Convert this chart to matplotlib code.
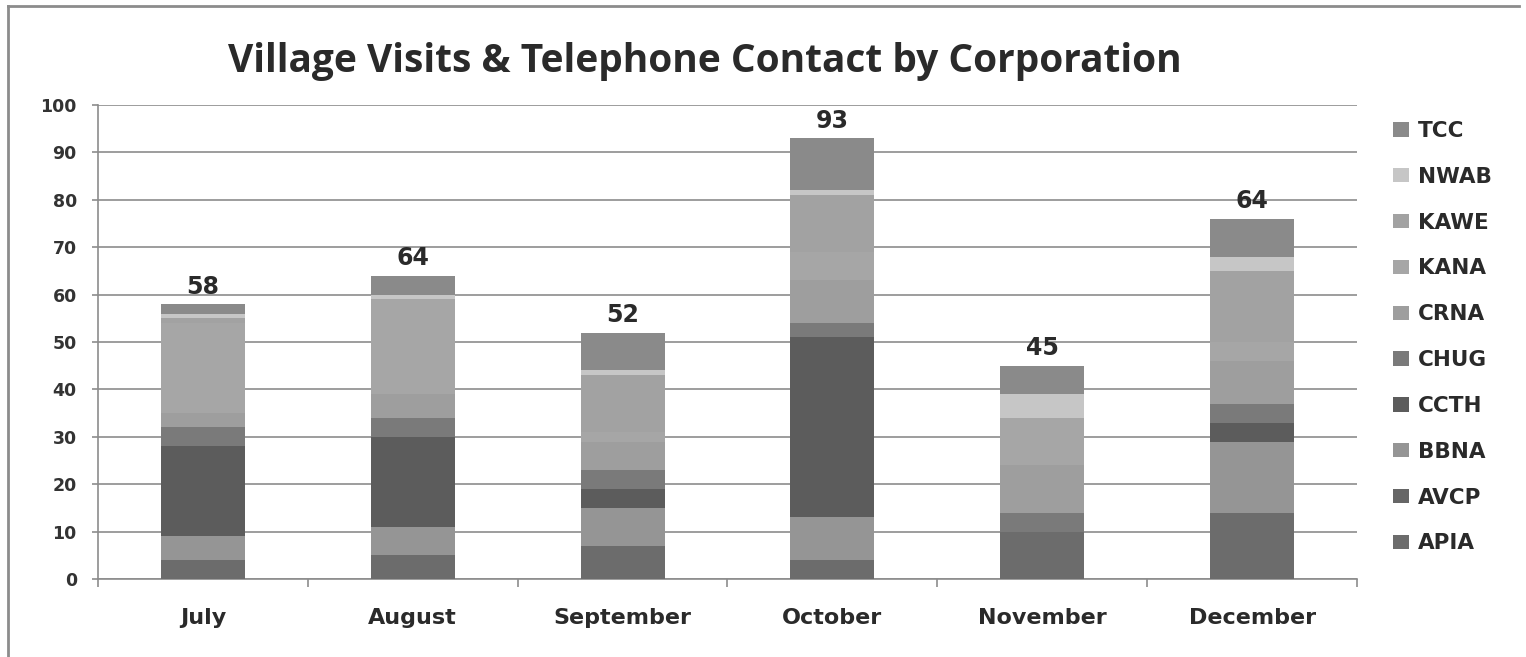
import matplotlib
matplotlib.use("Agg")
import matplotlib.pyplot as plt
from matplotlib.patches import Patch
from matplotlib.lines import Line2D
import numpy as np

# Months on the category axis
months = ["July", "August", "September", "October", "November", "December"]

# Contacts per corporation, stacked bottom to top
APIA = [4, 5, 7, 4, 10, 14]
AVCP = [0, 0, 0, 0, 0, 0]
BBNA = [5, 6, 8, 9, 0, 15]
CCTH = [19, 19, 4, 38, 0, 4]
CHUG = [4, 4, 4, 3, 4, 4]
CRNA = [3, 5, 6, 9, 10, 9]
KANA = [19, 20, 2, 6, 10, 4]
KAWE = [1, 0, 12, 12, 0, 15]
NWAB = [1, 1, 1, 1, 5, 3]
TCC = [2, 4, 8, 11, 6, 8]

# Printed totals above each column
total_labels = ["58", "64", "52", "93", "45", "64"]

series_names = ["APIA", "AVCP", "BBNA", "CCTH", "CHUG", "CRNA", "KANA", "KAWE", "NWAB", "TCC"]
series_values = [APIA, AVCP, BBNA, CCTH, CHUG, CRNA, KANA, KAWE, NWAB, TCC]
series_colors = ["#6c6c6c", "#666666", "#959595", "#5c5c5c", "#7a7a7a",
                 "#9e9e9e", "#a6a6a6", "#a2a2a2", "#c6c6c6", "#8a8a8a"]

W, H, DPI = 1526, 657, 100
fig = plt.figure(figsize=(W / DPI, H / DPI), dpi=DPI)
fig.patch.set_facecolor("white")

left, right, bottom, top = 98, 1357, 579, 105
ax = fig.add_axes([left / W, 1 - bottom / H, (right - left) / W, (bottom - top) / H])

x = np.arange(len(months))
base = np.zeros(len(months))
for name, vals, col in zip(series_names, series_values, series_colors):
    vals = np.array(vals, dtype=float)
    ax.bar(x, vals, width=0.4, bottom=base, color=col, edgecolor="none",
           label=name, zorder=3)
    base += vals

# Total labels above the stacks
for xi, tot, lab in zip(x, base, total_labels):
    ax.annotate(lab, (xi, tot), xytext=(0, 4), textcoords="offset points",
                ha="center", va="bottom", fontsize=17, fontweight="bold",
                family="DejaVu Sans", color="#2a2a2a", zorder=5)

ax.set_xlim(-0.5, len(months) - 0.5)
ax.set_ylim(0, 100)
ax.set_yticks(np.arange(0, 101, 10))
ax.yaxis.grid(True, color="#8c8c8c", linewidth=1.2, zorder=0)
ax.set_axisbelow(True)

for s in ["top", "right"]:
    ax.spines[s].set_visible(False)
for s in ["left", "bottom"]:
    ax.spines[s].set_color("#8c8c8c")
    ax.spines[s].set_linewidth(1.2)

ax.set_xticks(x)
ax.set_xticklabels(months, fontsize=16, fontweight="bold", family="DejaVu Sans",
                   color="#2a2a2a")
ax.set_xticks(np.arange(-0.5, len(months), 1.0), minor=True)
ax.tick_params(axis="x", which="major", length=0, pad=21)
ax.tick_params(axis="x", which="minor", length=6, width=1.2, color="#8c8c8c")
ax.tick_params(axis="y", which="major", length=4.3, width=1.2, color="#8c8c8c",
               pad=11, labelsize=12.5, labelcolor="#333333")
for t in ax.get_yticklabels():
    t.set_fontweight("bold")
    t.set_family("DejaVu Sans")

# Legend, top entry first
handles = [Patch(facecolor=c, edgecolor="none") for c in series_colors][::-1]
labels = series_names[::-1]
fig.legend(handles, labels, loc="upper left",
           bbox_to_anchor=(1393 / W, 1 - 121 / H), frameon=False,
           prop={"family": "DejaVu Sans", "size": 15.5, "weight": "bold"},
           labelspacing=1.2, handlelength=0.72, handleheight=0.65,
           handletextpad=0.45, borderpad=0, borderaxespad=0,
           labelcolor="#2a2a2a")

fig.text(705 / W, 1 - 72 / H, "Village Visits & Telephone Contact by Corporation",
         ha="center", va="baseline", fontsize=28, fontweight="bold",
         family="Open Sans", color="#2a2a2a")

# Outer chart frame (left and top edges)
fig.add_artist(Line2D([8 / W, 8 / W], [0, 1 - 6 / H], transform=fig.transFigure,
                      color="#8c8c8c", linewidth=2))
fig.add_artist(Line2D([8 / W, 1519 / W], [1 - 6 / H, 1 - 6 / H],
                      transform=fig.transFigure, color="#8c8c8c", linewidth=2))

fig.savefig("out.png", dpi=DPI, facecolor="white")
